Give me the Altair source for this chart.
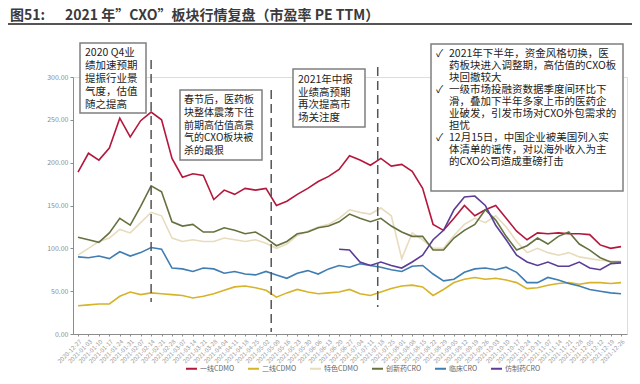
import json
import altair as alt
import pandas as pd

FONT = "Noto Sans CJK SC"

dates = [
    "2020-12-27", "2021-01-03", "2021-01-10", "2021-01-17", "2021-01-24", "2021-01-31",
    "2021-02-07", "2021-02-14", "2021-02-21", "2021-02-28", "2021-03-07", "2021-03-14",
    "2021-03-21", "2021-03-28", "2021-04-04", "2021-04-11", "2021-04-18", "2021-04-25",
    "2021-05-02", "2021-05-09", "2021-05-16", "2021-05-23", "2021-05-30", "2021-06-06",
    "2021-06-13", "2021-06-20", "2021-06-27", "2021-07-04", "2021-07-11", "2021-07-18",
    "2021-07-25", "2021-08-01", "2021-08-08", "2021-08-15", "2021-08-22", "2021-08-29",
    "2021-09-05", "2021-09-12", "2021-09-19", "2021-09-26", "2021-10-03", "2021-10-10",
    "2021-10-17", "2021-10-24", "2021-10-31", "2021-11-07", "2021-11-14", "2021-11-21",
    "2021-11-28", "2021-12-05", "2021-12-12", "2021-12-19", "2021-12-26",
]

tier1_cdmo = [189, 211, 203, 217, 252, 230, 249, 259, 250, 205, 183, 187, 185, 157, 168, 163,
              170, 168, 170, 150, 155, 163, 170, 178, 184, 192, 208, 203, 197, 205, 196, 198,
              190, 170, 128, 121, 135, 150, 138, 145, 150, 135, 120, 110, 118, 117, 118, 117,
              117, 116, 104, 100, 102]
tier2_cdmo = [33, 34, 35, 35, 44, 49, 46, 48, 47, 46, 45, 42, 44, 47, 51, 55, 56, 54, 51, 43,
              48, 52, 49, 47, 48, 49, 52, 47, 45, 49, 53, 56, 57, 55, 45, 52, 60, 64, 66, 64,
              65, 63, 60, 53, 54, 57, 59, 60, 58, 60, 60, 59, 60]
specialty_cdmo = [92, 100, 108, 112, 122, 118, 130, 142, 138, 112, 108, 110, 108, 108, 112, 110,
                  108, 110, 106, 100, 105, 115, 120, 125, 128, 135, 145, 142, 140, 147, 138, 88,
                  118, 110, 100, 100, 115, 128, 135, 130, 138, 125, 108, 95, 100, 95, 92, 95,
                  90, 88, 86, 85, 85]
innovative_cro = [113, 110, 107, 118, 135, 127, 149, 173, 166, 131, 126, 128, 119, 119, 124, 121,
                  117, 119, 112, 103, 108, 117, 119, 124, 126, 131, 140, 135, 131, 135, 126, 119,
                  114, 114, 98, 98, 112, 121, 128, 145, 133, 114, 98, 103, 112, 105, 114, 119,
                  105, 98, 89, 84, 84]
clinical_cro = [90, 89, 91, 88, 96, 91, 95, 101, 99, 77, 76, 73, 77, 76, 71, 73, 70, 69, 73, 69,
                65, 71, 74, 70, 76, 80, 78, 82, 80, 78, 75, 73, 79, 80, 70, 62, 64, 72, 76, 77,
                75, 78, 72, 60, 60, 66, 63, 59, 56, 52, 50, 48, 47]
generic_cro = [None] * 25 + [99, 98, 84, 80, 84, 80, 77, 84, 92, 110, 121, 145, 160, 161, 150,
                             127, 110, 92, 84, 80, 84, 79, 79, 84, 77, 75, 82, 83]

series_names = ["一线CDMO", "二线CDMO", "特色CDMO", "创新药CRO", "临床CRO", "仿制药CRO"]
series_colors = ["#B5173C", "#D6B328", "#E8DBBE", "#65723F", "#3F7DB3", "#5B3D98"]
series_values = [tier1_cdmo, tier2_cdmo, specialty_cdmo, innovative_cro, clinical_cro, generic_cro]

event_weeks = [7.0, 18.5, 28.7]
y_ticks = [0, 50, 100, 150, 200, 250, 300]

rows = []
for name, vals in zip(series_names, series_values):
    for i, v in enumerate(vals):
        if v is not None:
            rows.append({"i": i, "v": v, "s": name})
df = pd.DataFrame(rows)

label_expr = json.dumps(dates, ensure_ascii=False) + "[datum.value]"

lines = alt.Chart(df).mark_line(strokeWidth=1.6).encode(
    x=alt.X("i:Q", scale=alt.Scale(domain=[-0.48, 52.57], nice=False, zero=False),
            axis=alt.Axis(values=list(range(len(dates))), tickCount=len(dates) + 5,
                          labelExpr=label_expr, labelAngle=-45,
                          labelFontSize=6, labelColor="#9a9a9a", labelFont=FONT,
                          domainColor="#8c8c8c", tickColor="#8c8c8c", tickSize=2,
                          grid=False, title=None, labelOverlap=False, labelPadding=2)),
    y=alt.Y("v:Q", scale=alt.Scale(domain=[0, 300], nice=False),
            axis=alt.Axis(values=y_ticks, format=".2f", labelFontSize=7, labelColor="#8c8c8c",
                          labelFont=FONT, domainColor="#8c8c8c", tickColor="#8c8c8c", tickSize=3,
                          grid=False, title=None)),
    color=alt.Color("s:N", scale=alt.Scale(domain=series_names, range=series_colors),
                    legend=alt.Legend(title=None, orient="none", legendX=112, legendY=285,
                                      direction="horizontal", symbolType="stroke",
                                      symbolSize=121, symbolStrokeWidth=2, labelFontSize=7,
                                      labelFont=FONT, labelColor="#666666", labelOffset=2,
                                      columnPadding=9)),
)


def one():
    return alt.Data(values=[{"k": 0}])


def vrule(pos, y1, y2):
    return alt.Chart(alt.Data(values=[{"i": pos}])).mark_rule(
        color="#555555", strokeWidth=1.5, strokeDash=[9, 5]
    ).encode(x="i:Q", y=alt.value(y1), y2=alt.value(y2))


def box(x1, y1, x2, y2):
    return alt.Chart(one()).mark_rect(fill="white", stroke="#7f7f7f", strokeWidth=1.5).encode(
        x=alt.value(x1), x2=alt.value(x2), y=alt.value(y1), y2=alt.value(y2))


def text(t, x, y, size=10.5, weight="normal", color="#222222", lh=13, baseline="top"):
    return alt.Chart(alt.Data(values=[{"t": t}])).mark_text(
        align="left", baseline=baseline, fontSize=size, font=FONT, fontWeight=weight,
        color=color, lineBreak="\n", lineHeight=lh
    ).encode(x=alt.value(x), y=alt.value(y), text="t:N")


title_rule = alt.Chart(one()).mark_rule(color="#555555", strokeWidth=2).encode(
    x=alt.value(-65), x2=alt.value(559), y=alt.value(-53))

layers = [
    lines,
    vrule(event_weeks[0], -17, 225),
    vrule(event_weeks[1], 13, 255),
    vrule(event_weeks[2], -10, 230),
    box(7, -34, 73, 36),
    text("2020 Q4业\n绩加速预期\n提振行业景\n气度，估值\n随之提高", 12, -29.5, lh=13),
    box(107, 13, 189, 83),
    text("春节后，医药板\n块整体震荡下往\n前期高估值高景\n气的CXO板块被\n杀的最狠", 111, 18, size=10, lh=12.8),
    box(220, -8, 292, 50),
    text("2021年中报\n业绩高预期\n再次提高市\n场关注度", 225, -2, lh=12.5),
    box(358, -33, 550, 114),
    text("✓", 363, -28, size=10.5, lh=12),
    text("✓", 363, 8, size=10.5, lh=12),
    text("✓", 363, 56, size=10.5, lh=12),
    text("2021年下半年，资金风格切换，医\n药板块进入调整期，高估值的CXO板\n块回撤较大\n"
         "一级市场投融资数据季度间环比下\n滑，叠加下半年多家上市的医药企\n业破发，引发市场对CXO外包需求的\n担忧\n"
         "12月15日，中国企业被美国列入实\n体清单的谣传，对以海外收入为主\n的CXO公司造成重磅打击",
         376, -28, size=10.5, lh=12),
    title_rule,
    text("图51:", -63, -61, size=14, weight="bold", color="#3a3a3a", baseline="middle"),
    text("2021 年”CXO”板块行情复盘（市盈率 PE TTM）", -8, -61, size=14, weight="bold",
         color="#3a3a3a", baseline="middle"),
]

chart = alt.layer(*layers).properties(
    width=554, height=257,
    padding={"left": 65, "top": 69, "right": 5, "bottom": 42},
    autosize=alt.AutoSizeParams(type="none"),
).configure_view(stroke=None).configure(background="white")

chart.save("out.html", embed_options={"renderer": "svg", "actions": False})
